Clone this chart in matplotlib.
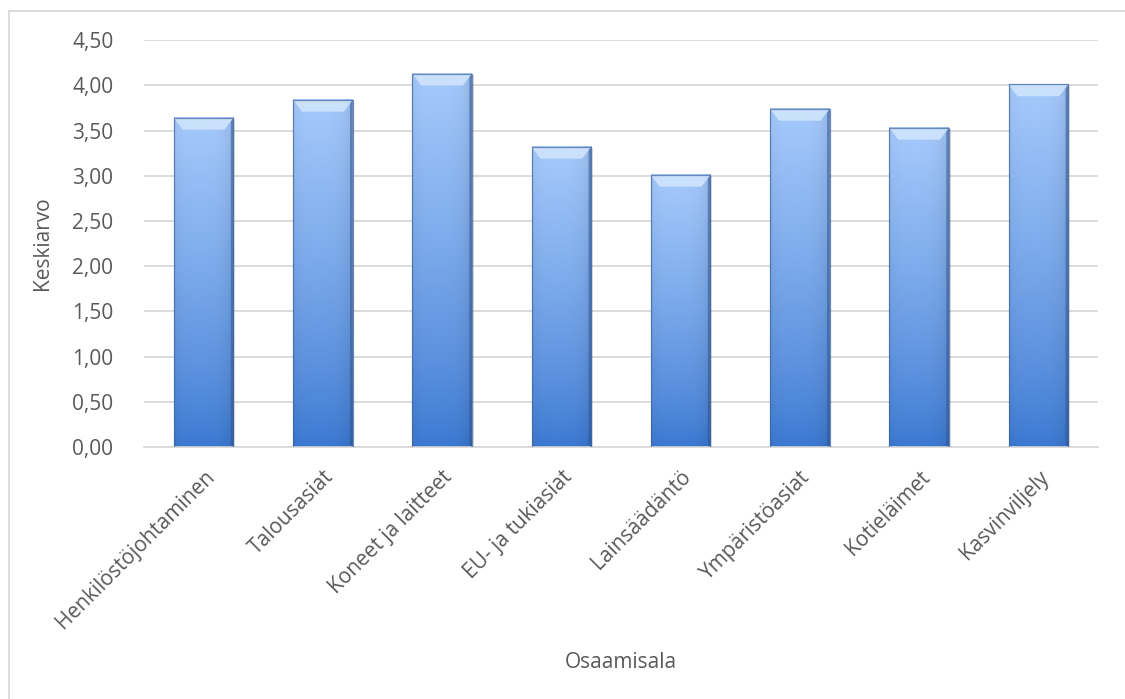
import numpy as np
import matplotlib
matplotlib.use("Agg")
import matplotlib.pyplot as plt
from matplotlib.colors import to_rgb
from matplotlib.patches import Polygon, Rectangle
from matplotlib.lines import Line2D
from matplotlib.ticker import FuncFormatter

# data
alat = ["Henkilöstöjohtaminen", "Talousasiat", "Koneet ja laitteet", "EU- ja tukiasiat",
        "Lainsäädäntö", "Ympäristöasiat", "Kotieläimet", "Kasvinviljely"]
keskiarvo = [3.64, 3.84, 4.13, 3.32, 3.01, 3.74, 3.53, 4.01]
yticks = [0, 0.5, 1.0, 1.5, 2.0, 2.5, 3.0, 3.5, 4.0, 4.5]

plt.rcParams['font.family'] = ['Open Sans', 'DejaVu Sans']
txt = '#595959'
fs = 15

fig = plt.figure(figsize=(11.25, 6.99), dpi=100)
ax = fig.add_axes([0.128, 0.3605, 0.848, 0.582])

# outer frame (only top and left visible in the reference)
fig.add_artist(Line2D([8.5/1125, 8.5/1125], [0, 1 - 11/699], color='#d9d9d9', lw=1.3,
                      transform=fig.transFigure))
fig.add_artist(Line2D([8.5/1125, 1], [1 - 11/699, 1 - 11/699], color='#d9d9d9', lw=1.3,
                      transform=fig.transFigure))

top_c = np.array(to_rgb('#a6cafc'))
bot_c = np.array(to_rgb('#3a78d2'))
w = 0.5
bx = 0.075   # bevel in x (data units)
by = 0.13    # bevel in y

for i, v in enumerate(keskiarvo):
    x0, x1 = i - w / 2, i + w / 2
    # soft shadow
    ax.add_patch(Rectangle((x0 + 0.015, -0.012), w, v, color='#000000', alpha=0.12,
                           lw=0, zorder=1.5))
    t = np.linspace(0, 1, 200)[:, None]
    t2 = t ** 0.8
    grad = bot_c[None, :] * (1 - t2) + top_c[None, :] * t2
    cols = np.linspace(0, 1, 40)
    shade = 1 - 0.10 * (cols ** 6) - 0.04 * ((1 - cols) ** 8)
    img = grad[:, None, :] * shade[None, :, None]
    ax.imshow(np.clip(img, 0, 1), extent=[x0, x1, 0, v], origin='lower',
              aspect='auto', zorder=2, interpolation='bilinear')
    # top bevel
    ax.add_patch(Polygon([[x0, v], [x1, v], [x1 - bx, v - by], [x0 + bx, v - by]],
                         closed=True, facecolor='#cfe4fd', edgecolor='none', alpha=0.9, zorder=3))
    # right bevel
    ax.add_patch(Polygon([[x1, v], [x1, 0], [x1 - 0.022, 0.02], [x1 - 0.022, v - by * 0.3]],
                         closed=True, facecolor='#2f5590', edgecolor='none', alpha=0.55, zorder=3))
    # outline
    ax.add_patch(Rectangle((x0, 0), w, v, fill=False, edgecolor='#3d639c', lw=0.9,
                           alpha=0.7, zorder=4))

ax.set_xlim(-0.5, len(alat) - 0.5)
ax.set_ylim(0, 4.5)
ax.set_yticks(yticks)
ax.yaxis.set_major_formatter(FuncFormatter(lambda y, p: f"{y:.2f}".replace('.', ',')))
ax.set_xticks(range(len(alat)))
ax.set_xticklabels(alat, rotation=45, ha='right', rotation_mode='anchor')
ax.grid(axis='y', color='#d9d9d9', lw=1.3, zorder=0)
ax.set_axisbelow(True)
for s in ['left', 'right', 'top']:
    ax.spines[s].set_visible(False)
ax.spines['bottom'].set_color('#d9d9d9')
ax.spines['bottom'].set_linewidth(1.3)
ax.tick_params(axis='both', length=0, labelsize=fs, colors=txt)
ax.tick_params(axis='y', pad=22)
ax.tick_params(axis='x', pad=14)

ax.set_ylabel("Keskiarvo", fontsize=fs, color=txt, labelpad=14)
fig.text(0.552, 1 - 662/699, "Osaamisala", fontsize=fs, color=txt, ha='center', va='center')

fig.savefig("out.png", dpi=100)
